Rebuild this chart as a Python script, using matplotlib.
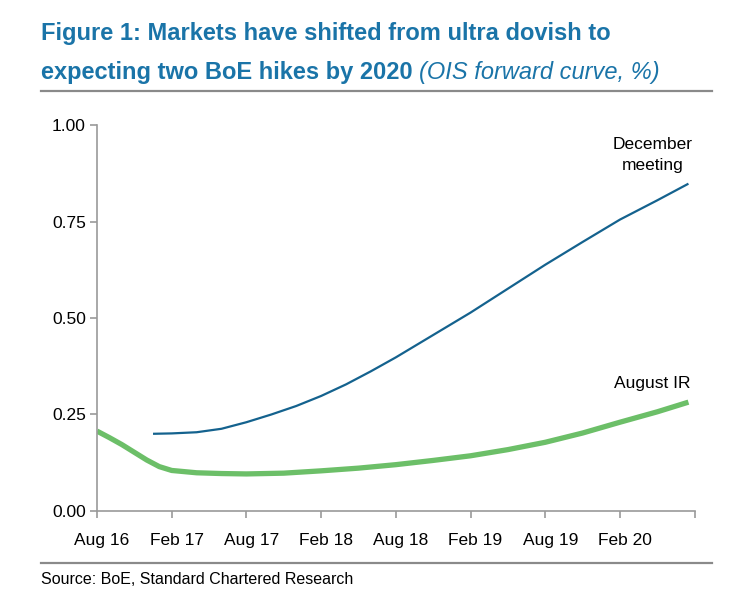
import matplotlib
matplotlib.use('Agg')
import matplotlib.pyplot as plt
import matplotlib.transforms as mtransforms
from matplotlib.lines import Line2D

plt.rcParams['font.family'] = ['Liberation Sans', 'DejaVu Sans']

# months since Aug 2016
aug_months = [0, 1, 2, 3, 4, 5, 6, 8, 10, 12, 15, 18, 21, 24, 27, 30, 33, 36, 39, 42, 45, 47.5]
aug_ir = [0.207, 0.19, 0.172, 0.152, 0.132, 0.115, 0.105, 0.099, 0.097, 0.096, 0.098, 0.104,
          0.111, 0.120, 0.131, 0.143, 0.159, 0.178, 0.202, 0.230, 0.257, 0.282]

dec_months = [4.5, 6, 8, 10, 12, 14, 16, 18, 20, 22, 24, 27, 30, 33, 36, 39, 42, 45, 47.5]
dec_meeting = [0.200, 0.201, 0.204, 0.213, 0.230, 0.250, 0.272, 0.298, 0.328, 0.362, 0.398,
               0.456, 0.514, 0.576, 0.638, 0.697, 0.755, 0.805, 0.848]

tick_months = [0, 6, 12, 18, 24, 30, 36, 42, 48]
tick_labels = ['Aug 16', 'Feb 17', 'Aug 17', 'Feb 18', 'Aug 18', 'Feb 19', 'Aug 19', 'Feb 20', '']
y_ticks = [0, 0.25, 0.5, 0.75, 1.0]

title_col = '#1a74a8'
axis_col = '#9a9a9a'

fig = plt.figure(figsize=(7.32, 6.04), dpi=100)
ax = fig.add_axes([0.1325, 0.154, 0.8165, 0.639])

ax.plot(aug_months, aug_ir, color='#6cbf68', lw=3.8, solid_capstyle='butt')
ax.plot(dec_months, dec_meeting, color='#14628e', lw=1.6, solid_capstyle='butt')

ax.set_xlim(0, 48)
ax.set_ylim(0, 1.0)
ax.set_xticks(tick_months)
ax.set_xticklabels(tick_labels)
ax.set_yticks(y_ticks)
ax.set_yticklabels(['%.2f' % v for v in y_ticks])

for s in ['top', 'right']:
    ax.spines[s].set_visible(False)
for s in ['left', 'bottom']:
    ax.spines[s].set_color(axis_col)
    ax.spines[s].set_linewidth(1.2)
ax.tick_params(axis='both', colors=axis_col, length=5, width=1.2, labelcolor='black', labelsize=12.5)
ax.tick_params(axis='x', pad=11)
ax.tick_params(axis='y', pad=3)
# excel puts the date labels a bit right of the ticks
shift = mtransforms.ScaledTranslation(5 / 100, 0, fig.dpi_scale_trans)
for lab in ax.get_xticklabels():
    lab.set_transform(lab.get_transform() + shift)

ax.text(44.6, 0.875, 'December\nmeeting', ha='center', va='bottom', fontsize=12.5,
        linespacing=1.5)
ax.text(44.6, 0.31, 'August IR', ha='center', va='bottom', fontsize=12.5)

# title: bold part then italic part right after it
t1 = fig.text(0.056, 0.945, 'Figure 1: Markets have shifted from ultra dovish to',
              color=title_col, fontsize=17, fontweight='bold', va='center')
t2 = fig.text(0.056, 0.88, 'expecting two BoE hikes by 2020 ', color=title_col, fontsize=17,
              fontweight='bold', va='center')
fig.canvas.draw()
bb = t2.get_window_extent()
fig.text(bb.x1 / fig.bbox.width, 0.88, '(OIS forward curve, %)', color=title_col, fontsize=17,
         fontstyle='italic', va='center')

fig.add_artist(Line2D([0.056, 0.973], [0.849, 0.849], color='#8a8a8a', lw=1.6, transform=fig.transFigure))
fig.add_artist(Line2D([0.056, 0.973], [0.068, 0.068], color='#8a8a8a', lw=1.6, transform=fig.transFigure))
fig.text(0.056, 0.04, 'Source: BoE, Standard Chartered Research', fontsize=11.5, va='center')

plt.savefig('out.png', dpi=100)
